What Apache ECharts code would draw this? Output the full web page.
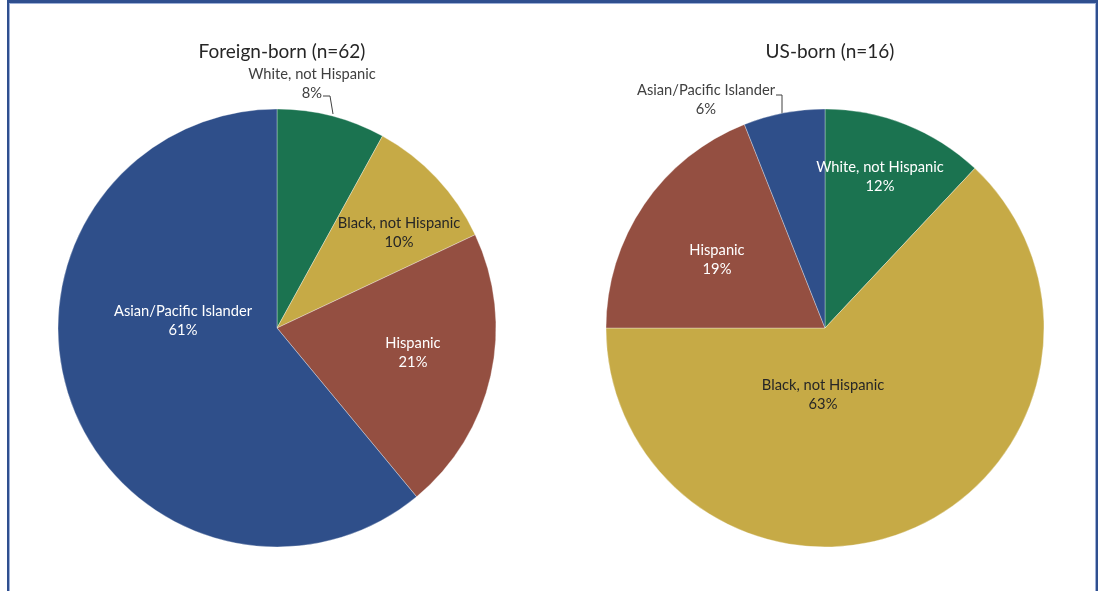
<!DOCTYPE html>
<html><head><meta charset="utf-8">
<script src="https://cdn.jsdelivr.net/npm/echarts@6/dist/echarts.min.js"></script>
<style>
html,body{margin:0;padding:0;background:#fff;overflow:hidden;width:1102px;height:591px}
#frame{position:absolute;left:7px;top:0;width:1087px;height:700px;border:2px solid #2f4f8f;border-top-width:3px;box-shadow:inset 0 0 0 1px #9db0d8;}
#chart{position:absolute;left:0;top:0;width:1102px;height:591px}
</style></head><body>
<div id="frame"></div><div id="chart"></div>
<script>
// ---- data ----
const categories = ['White, not Hispanic', 'Black, not Hispanic', 'Hispanic', 'Asian/Pacific Islander'];
const foreignBorn = [8, 10, 21, 61];
const usBorn = [12, 63, 19, 6];
const titles = ['Foreign-born (n=62)', 'US-born (n=16)'];

// ---- style / layout ----
const sliceColors = ['#1b7350', '#c6aa46', '#944f41', '#2f4f8a'];
const insideTextColors = ['#ffffff', '#262626', '#ffffff', '#ffffff'];
const FONT = 'Lato, "Open Sans", sans-serif';
const centers = [[277, 328], [825, 328]];
const R = 219;
// label centre offsets from pie centre (px)
const labelPos = [
  [[35, -244], [122, -95], [136, 25], [-94, -7]],
  [[55, -151], [-2, 67], [-108, -68], [-119, -228]]
];
// outside labels: index of slice, leader points (edge -> elbow -> end) relative to centre
const outside = [
  {idx: 0, pts: [[56, -214], [53, -232], [46, -232]]},
  {idx: 3, pts: [[-43, -214], [-43, -233], [-49, -233]]}
];

function buildSeries(values, s) {
  const c = centers[s];
  const data = values.map((v, i) => {
    const isOut = outside[s].idx === i;
    return {
      name: categories[i],
      value: v,
      itemStyle: {color: sliceColors[i]},
      label: isOut ? {position: 'outside', color: '#404040'} : {position: 'inside', color: insideTextColors[i]},
      labelLine: {show: isOut}
    };
  });
  return {
    type: 'pie',
    center: c,
    radius: R,
    startAngle: 90,
    clockwise: true,
    avoidLabelOverlap: false,
    animation: false,
    silent: true,
    itemStyle: {borderColor: 'rgba(255,255,255,0.55)', borderWidth: 0.6},
    label: {
      show: true,
      formatter: '{b}\n{c}%',
      fontFamily: FONT,
      fontSize: 14.7,
      lineHeight: 18.5,
      align: 'center'
    },
    labelLine: {lineStyle: {color: '#404040', width: 1}, length: 10, length2: 10},
    labelLayout: function (p) {
      const pos = labelPos[s][p.dataIndex];
      const out = {x: c[0] + pos[0], y: c[1] + pos[1], align: 'center', verticalAlign: 'middle'};
      if (outside[s].idx === p.dataIndex) {
        out.labelLinePoints = outside[s].pts.map(q => [c[0] + q[0], c[1] + q[1]]);
      }
      return out;
    },
    data: data
  };
}

const chart = echarts.init(document.getElementById('chart'), null, {renderer: 'canvas'});
chart.setOption({
  backgroundColor: 'transparent',
  animation: false,
  title: titles.map((t, s) => ({
    text: t,
    left: centers[s][0],
    top: 37,
    textAlign: 'center',
    textStyle: {fontFamily: FONT, fontSize: 19, fontWeight: 'normal', color: '#262626'}
  })),
  series: [buildSeries(foreignBorn, 0), buildSeries(usBorn, 1)]
});
</script>
</body></html>
